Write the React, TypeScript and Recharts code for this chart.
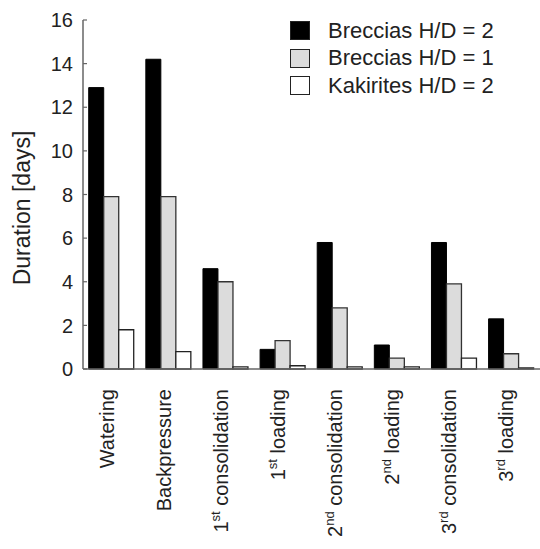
import React from "react";
import { BarChart, Bar, XAxis, YAxis, Legend } from "recharts";

const categories = [
  "Watering",
  "Backpressure",
  "1st consolidation",
  "1st loading",
  "2nd consolidation",
  "2nd loading",
  "3rd consolidation",
  "3rd loading",
];
const brecciasHD2 = [12.9, 14.2, 4.6, 0.9, 5.8, 1.1, 5.8, 2.3];
const brecciasHD1 = [7.9, 7.9, 4.0, 1.3, 2.8, 0.5, 3.9, 0.7];
const kakiritesHD2 = [1.8, 0.8, 0.1, 0.15, 0.1, 0.1, 0.5, 0.05];
const yTicks = [0, 2, 4, 6, 8, 10, 12, 14, 16];

const data = categories.map((name, i) => ({
  name,
  b2: brecciasHD2[i],
  b1: brecciasHD1[i],
  k2: kakiritesHD2[i],
}));

const font = "'Liberation Sans', Arial, sans-serif";
const textColor = "#222";
const axisColor = "#666";

const legendItems = [
  { label: "Breccias H/D = 2", fill: "#000" },
  { label: "Breccias H/D = 1", fill: "#dcdcdc" },
  { label: "Kakirites H/D = 2", fill: "#fff" },
];

function XTick({ x, y, payload }: any) {
  const m = /^(\d)(st|nd|rd) (.+)$/.exec(payload.value);
  return (
    <g transform={`translate(${x},${y})`}>
      <text transform="rotate(-90)" textAnchor="end" dy={2} fontSize={20} fill={textColor} fontFamily={font}>
        {m ? (
          <>
            <tspan>{m[1]}</tspan>
            <tspan dy={-8} fontSize={13}>{m[2]}</tspan>
            <tspan dy={8}>{" " + m[3]}</tspan>
          </>
        ) : (
          payload.value
        )}
      </text>
    </g>
  );
}

function YTick({ x, y, payload }: any) {
  return (
    <g>
      <text x={x} y={y} dy="0.36em" textAnchor="end" fontSize={20} fill={textColor} fontFamily={font}>
        {payload.value}
      </text>
      <line x1={x + 10} x2={x + 14} y1={y} y2={y} stroke={axisColor} strokeWidth={1.2} />
    </g>
  );
}

function YLabel() {
  return (
    <text
      transform="translate(30,208) rotate(-90)"
      textAnchor="middle"
      fontSize={23}
      fill={textColor}
      fontFamily={font}
    >
      Duration [days]
    </text>
  );
}

function LegendBox() {
  return (
    <div style={{ fontFamily: font, fontSize: 22, color: textColor }}>
      {legendItems.map((it) => (
        <div key={it.label} style={{ display: "flex", alignItems: "center", height: 27.5 }}>
          <div
            style={{
              width: 18,
              height: 17,
              background: it.fill,
              border: "1.5px solid #222",
              marginRight: 18,
            }}
          />
          <span>{it.label}</span>
        </div>
      ))}
    </div>
  );
}

export default function App() {
  return (
    <div style={{ position: "absolute", left: 0, top: 0, width: 540, height: 549, background: "#fff" }}>
      <BarChart
        width={540}
        height={549}
        data={data}
        margin={{ top: 20, right: 0, left: 0, bottom: 0 }}
        barCategoryGap="10%"
        barGap={0}
      >
        <XAxis
          dataKey="name"
          interval={0}
          tick={<XTick />}
          tickLine={false}
          tickSize={0}
          tickMargin={20}
          height={180}
          axisLine={{ stroke: axisColor, strokeWidth: 1.5 }}
        />
        <YAxis
          domain={[0, 16]}
          ticks={yTicks}
          interval={0}
          width={83}
          tick={<YTick />}
          tickLine={false}
          tickSize={0}
          tickMargin={10}
          axisLine={{ stroke: axisColor, strokeWidth: 1.5 }}
          label={<YLabel />}
        />
        <Legend
          layout="vertical"
          align="center"
          verticalAlign="middle"
          content={<LegendBox />}
          wrapperStyle={{ left: 290, top: 17, width: 240 }}
        />
        <Bar dataKey="b2" name="Breccias H/D = 2" fill="#000" stroke="#000" strokeWidth={1} isAnimationActive={false} />
        <Bar dataKey="b1" name="Breccias H/D = 1" fill="#dcdcdc" stroke="#333" strokeWidth={1.3} isAnimationActive={false} />
        <Bar dataKey="k2" name="Kakirites H/D = 2" fill="#fff" stroke="#222" strokeWidth={1.3} isAnimationActive={false} />
      </BarChart>
    </div>
  );
}
